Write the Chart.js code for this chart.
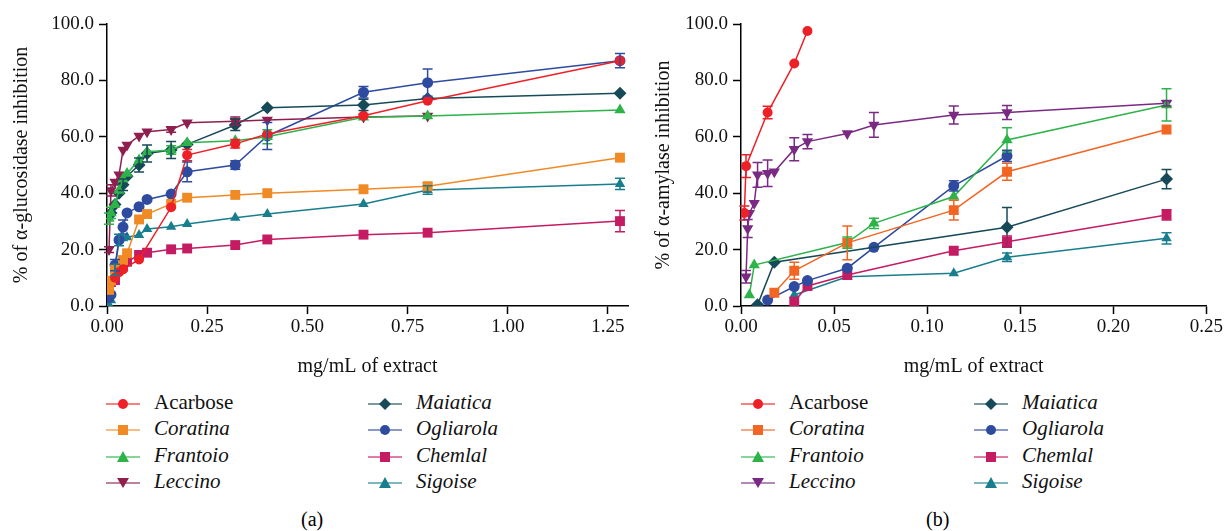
<!DOCTYPE html>
<html>
<head>
<meta charset="utf-8">
<script src="https://cdn.jsdelivr.net/npm/chart.js@4.4.1/dist/chart.umd.min.js"></script>
<style>
  body { margin: 0; background: #fff; width: 1225px; height: 531px; overflow: hidden; position: relative; font-family: 'Liberation Serif', serif; }
  canvas { position: absolute; top: 0; }
  #gluc { left: 0; }
  #amyl { left: 640px; }
  .legend { position: absolute; top: 390px; font-size: 21px; color: #111; }
  .item { position: absolute; height: 24px; line-height: 24px; white-space: nowrap; }
  .item svg { vertical-align: middle; margin-right: 14px; }
  .item i { font-style: italic; }
  .cap { position: absolute; top: 508px; font-size: 20px; }
</style>
</head>
<body>
<canvas id="gluc" width="640" height="390"></canvas>
<canvas id="amyl" width="585" height="390"></canvas>
<div id="legA" class="legend"></div>
<div id="legB" class="legend"></div>
<div class="cap" style="left:301px">(a)</div>
<div class="cap" style="left:926px">(b)</div>
<script>
var n = null;

// ---- (a) alpha-glucosidase ----
var glucDose = [0.005, 0.01, 0.02, 0.03, 0.04, 0.05, 0.08, 0.1, 0.16, 0.2, 0.32, 0.4, 0.64, 0.8, 1.28];
var glucTicks = [0, 0.25, 0.5, 0.75, 1.0, 1.25];
var gAcarbose  = [n, n, 10, 12, 13, n, 16.5, n, 35, 53.5, 57.5, 61, 67.5, 72.8, 87];
var gCoratina  = [5.7, 9, 13, n, 16.3, 18.7, 30.7, 32.6, 36.2, 38.4, 39.4, 40, 41.4, 42.5, 52.6];
var gFrantoio  = [31, 33, 36, 41, 45, 47, 51.8, 54.7, 55.3, 57.9, 58.6, 60, 66.9, 67.4, 69.5];
var gLeccino   = [20, 41, 44, 46.5, 55.3, 57.1, 60.3, 61.8, 62.6, 65, 65.5, 66, 67, 67.4, n];
var gMaiatica  = [32, 33, 36, 40, 43, 46, 50, 54.1, 55.3, 57.3, 64.2, 70.3, 71.3, 73.6, 75.4];
var gOgliarola = [3, 4, 14.5, 23.4, 28, 33, 35.2, 37.8, 39.7, 47.6, 50, 60.3, 75.8, 79.2, 87];
var gChemlal   = [n, 8.5, 9.2, 13.4, 14, 15.7, 18.1, 18.9, 20.1, 20.4, 21.6, 23.6, 25.3, 26, 30.1];
var gSigoise   = [0.4, 2, 12.8, 23.4, 24, 24.4, 25.2, 27.3, 28.1, 29.1, 31.3, 32.6, 36.2, 41.1, 43.3];
// error bars (± SD), same order as glucDose
var gAcarboseErr  = [0, 0, 0, 0, 0, 0, 0, 0, 0, 2, 1.5, 0, 0, 0, 0];
var gCoratinaErr  = [0, 0, 0, 0, 0, 0, 0, 0, 0, 0, 0, 0, 0, 1, 0];
var gFrantoioErr  = [2, 2, 0, 0, 0, 0, 0, 0, 1.5, 0, 0, 2.5, 0, 0, 0];
var gLeccinoErr   = [1, 2, 0, 0, 0, 0, 0, 0, 1, 0, 1.5, 0, 0, 0, 0];
var gMaiaticaErr  = [0, 0, 0, 0, 2, 0, 2.5, 3, 3, 0, 2, 0, 2, 0, 0];
var gOgliarolaErr = [0, 0, 2, 0, 2.5, 0, 0, 0, 0, 3.5, 1.5, 4.8, 2, 4.8, 2.5];
var gChemlalErr   = [0, 0, 0, 0, 0, 0, 0, 0, 0, 0, 0, 0, 0, 0, 3.8];
var gSigoiseErr   = [0, 0, 2, 2, 0, 0, 0, 0, 0, 0, 0, 0, 0, 1.5, 2];

// ---- (b) alpha-amylase ----
var amylDose = [0.0018, 0.0027, 0.0036, 0.0045, 0.0071, 0.0089, 0.0143, 0.0179, 0.0286, 0.0357, 0.0571, 0.0714, 0.1143, 0.1429, 0.2286];
var amylTicks = [0, 0.05, 0.1, 0.15, 0.2, 0.25];
var aAcarbose  = [33, 49.6, n, n, n, n, 68.6, n, 86, 97.5, n, n, n, n, n];
var aCoratina  = [n, n, n, n, n, n, n, 4.7, 12.5, n, 22.4, n, 34, 47.6, 62.6];
var aFrantoio  = [n, n, n, 3.9, 14.5, n, n, n, n, n, 22.5, 29.3, 38.8, 58.9, 71.3];
var aLeccino   = [n, 10.4, 27.5, 32.9, 36.4, 46.5, 47.1, 47.6, 55.6, 58.3, 61.2, 64.2, 67.7, 68.6, 71.9];
var aMaiatica  = [n, n, n, n, n, 0.4, n, 15.5, n, n, n, n, n, 27.9, 45];
var aOgliarola = [n, n, n, n, n, n, 2.1, n, 6.9, 9.0, 13.4, 20.8, 42.6, 53.2, n];
var aChemlal   = [n, n, n, n, n, n, n, n, 1.5, 7.1, 11, n, 19.6, 22.8, 32.3];
var aSigoise   = [n, n, n, n, n, n, n, n, 3.9, n, 10.4, n, 11.6, 17.3, 24];
var aAcarboseErr  = [2.5, 4, 0, 0, 0, 0, 2.2, 0, 0, 0, 0, 0, 0, 0, 0];
var aCoratinaErr  = [0, 0, 0, 0, 0, 0, 0, 0, 3, 0, 6, 0, 3.5, 3, 0];
var aFrantoioErr  = [0, 0, 0, 0, 0, 0, 0, 0, 0, 0, 2, 1.8, 0, 4.3, 5.7];
var aLeccinoErr   = [0, 2.2, 3.2, 0, 0, 4.4, 4.7, 0, 4.1, 2.5, 0, 4.4, 3.2, 2.5, 1];
var aMaiaticaErr  = [0, 0, 0, 0, 0, 0, 0, 0, 0, 0, 0, 0, 0, 7, 3.4];
var aOgliarolaErr = [0, 0, 0, 0, 0, 0, 0, 0, 0, 0, 0, 0, 1.8, 2, 0];
var aChemlalErr   = [0, 0, 0, 0, 0, 0, 0, 0, 0, 0, 0, 0, 0, 2, 1.8];
var aSigoiseErr   = [0, 0, 0, 0, 0, 0, 0, 0, 0, 0, 0, 0, 0, 1.5, 2];

var seriesNames = ['Acarbose', 'Coratina', 'Frantoio', 'Leccino', 'Maiatica', 'Ogliarola', 'Chemlal', 'Sigoise'];
var yTicks = [0, 20, 40, 60, 80, 100];

var styleA = [
  {c: '#ee2027', p: 'circle', r: 5},
  {c: '#f08a24', p: 'rect', r: 7},
  {c: '#2db34a', p: 'triangle', r: 6.5},
  {c: '#8e1f4e', p: 'triangle', r: 6.5, rot: 180},
  {c: '#174a58', p: 'rectRot', r: 6.5},
  {c: '#2f4ba0', p: 'circle', r: 5.5},
  {c: '#c41b63', p: 'rect', r: 7},
  {c: '#187e8e', p: 'triangle', r: 6}
];
var styleB = styleA.map(function(s){ return Object.assign({}, s); });
styleB[1].c = '#f26522';
styleB[3].c = '#7a2a83';

function pairs(xs, ys, es) {
  var d = [], e = [];
  for (var i = 0; i < xs.length; i++) {
    if (ys[i] === null) continue;
    d.push({x: xs[i], y: ys[i]});
    e.push(es[i]);
  }
  return {d: d, e: e};
}

function makeSets(xs, ys, es, style) {
  return ys.map(function(y, k){
    var p = pairs(xs, y, es[k]);
    var s = style[k];
    return {
      label: seriesNames[k], data: p.d, errors: p.e,
      borderColor: s.c, backgroundColor: s.c, borderWidth: 1.5,
      pointStyle: s.p, pointRadius: s.r, pointRotation: s.rot || 0,
      pointBorderWidth: 0, pointHoverRadius: s.r, tension: 0
    };
  });
}

var errorBars = {
  id: 'errorBars',
  afterDatasetsDraw: function(chart) {
    var ctx = chart.ctx, ys = chart.scales.y;
    chart.data.datasets.forEach(function(ds, i){
      var meta = chart.getDatasetMeta(i);
      meta.data.forEach(function(pt, j){
        var e = ds.errors[j];
        if (!e) return;
        var v = ds.data[j].y;
        var t = ys.getPixelForValue(v + e), b = ys.getPixelForValue(v - e);
        ctx.save();
        ctx.strokeStyle = ds.borderColor;
        ctx.lineWidth = 1.5;
        ctx.beginPath();
        ctx.moveTo(pt.x, t); ctx.lineTo(pt.x, b);
        ctx.moveTo(pt.x - 5, t); ctx.lineTo(pt.x + 5, t);
        ctx.moveTo(pt.x - 5, b); ctx.lineTo(pt.x + 5, b);
        ctx.stroke();
        ctx.restore();
      });
    });
  }
};

var serif = "'Liberation Serif', 'Times New Roman', serif";

function makeOpts(xMax, xTicks, xDigits, yTitle, yWidth, yTitlePad, padRight) {
  return {
    responsive: false, animation: false,
    layout: {padding: {top: 24, right: padRight, bottom: 0, left: 0}},
    plugins: {legend: {display: false}, tooltip: {enabled: false}},
    scales: {
      x: {
        type: 'linear', min: 0, max: xMax,
        afterBuildTicks: function(s){ s.ticks = xTicks.map(function(v){ return {value: v}; }); },
        afterFit: function(s){ s.height = 84; },
        grid: {display: true, drawOnChartArea: false, drawTicks: true, tickLength: 8, tickColor: '#000', tickWidth: 1.5},
        border: {display: true, color: '#000', width: 1.5},
        ticks: {color: '#111', font: {family: serif, size: 19}, padding: 2, maxRotation: 0,
                callback: function(v){ return Number(v).toFixed(xDigits); }},
        title: {display: true, text: 'mg/mL of extract', color: '#111', font: {family: serif, size: 20}, padding: {top: 0, bottom: 11}}
      },
      y: {
        min: 0, max: 100,
        afterBuildTicks: function(s){ s.ticks = yTicks.map(function(v){ return {value: v}; }); },
        afterFit: function(s){ s.width = yWidth; },
        grid: {display: true, drawOnChartArea: false, drawTicks: true, tickLength: 8, tickColor: '#000', tickWidth: 1.5},
        border: {display: true, color: '#000', width: 1.5},
        ticks: {color: '#111', font: {family: serif, size: 19}, padding: 5,
                callback: function(v){ return Number(v).toFixed(1); }},
        title: {display: true, text: yTitle, color: '#111', font: {family: serif, size: 20}, padding: {top: yTitlePad, bottom: 0}}
      }
    }
  };
}

new Chart(document.getElementById('gluc'), {
  type: 'line',
  data: {datasets: makeSets(glucDose,
    [gAcarbose, gCoratina, gFrantoio, gLeccino, gMaiatica, gOgliarola, gChemlal, gSigoise],
    [gAcarboseErr, gCoratinaErr, gFrantoioErr, gLeccinoErr, gMaiaticaErr, gOgliarolaErr, gChemlalErr, gSigoiseErr],
    styleA)},
  options: makeOpts(1.3, glucTicks, 2, '% of \u03b1-glucosidase inhibition', 107, 10, 12),
  plugins: [errorBars]
});

new Chart(document.getElementById('amyl'), {
  type: 'line',
  data: {datasets: makeSets(amylDose,
    [aAcarbose, aCoratina, aFrantoio, aLeccino, aMaiatica, aOgliarola, aChemlal, aSigoise],
    [aAcarboseErr, aCoratinaErr, aFrantoioErr, aLeccinoErr, aMaiaticaErr, aOgliarolaErr, aChemlalErr, aSigoiseErr],
    styleB)},
  options: makeOpts(0.25, amylTicks, 2, '% of \u03b1-amylase inhibition', 101, 12, 18),
  plugins: [errorBars]
});

// HTML legends, two columns of four
function marker(s) {
  var c = s.c, sh = '';
  if (s.p === 'circle') sh = '<circle cx="17" cy="12" r="5" fill="' + c + '"/>';
  else if (s.p === 'rect') sh = '<rect x="12" y="7" width="10" height="10" fill="' + c + '"/>';
  else if (s.p === 'rectRot') sh = '<polygon points="17,6 23,12 17,18 11,12" fill="' + c + '"/>';
  else if (s.rot) sh = '<polygon points="11,7 23,7 17,17" fill="' + c + '"/>';
  else sh = '<polygon points="17,6 23,17 11,17" fill="' + c + '"/>';
  return '<svg width="34" height="24"><line x1="0" y1="12" x2="34" y2="12" stroke="' + c + '" stroke-width="1.5" opacity="0.75"/>' + sh + '</svg>';
}
function buildLegend(id, style, x1, x2) {
  var el = document.getElementById(id), html = '';
  var rows = [0, 26.3, 52.6, 79];
  seriesNames.forEach(function(name, k){
    var col = k < 4 ? x1 : x2, row = rows[k % 4];
    var txt = k === 0 ? name : '<i>' + name + '</i>';
    html += '<div class="item" style="left:' + col + 'px;top:' + row + 'px">' + marker(style[k]) + txt + '</div>';
  });
  el.innerHTML = html;
  el.style.left = '0px';
}
buildLegend('legA', styleA, 106, 368);
buildLegend('legB', styleB, 741, 974);
</script>
</body>
</html>
